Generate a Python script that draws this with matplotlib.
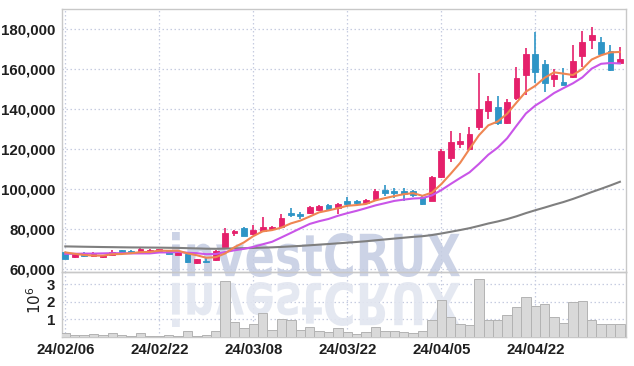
import matplotlib
matplotlib.use("Agg")
import matplotlib.pyplot as plt
from matplotlib.textpath import TextPath
from matplotlib.patches import PathPatch
from matplotlib.font_manager import FontProperties
from matplotlib.transforms import Affine2D
from matplotlib.ticker import FuncFormatter

# trading days 2024-02-06 .. 2024-05-07
dates = ["24/02/06", "24/02/07", "24/02/08", "24/02/13", "24/02/14", "24/02/15", "24/02/16", "24/02/19", "24/02/20", "24/02/21",
         "24/02/22", "24/02/23", "24/02/26", "24/02/27", "24/02/28", "24/02/29", "24/03/04", "24/03/05", "24/03/06", "24/03/07",
         "24/03/08", "24/03/11", "24/03/12", "24/03/13", "24/03/14", "24/03/15", "24/03/18", "24/03/19", "24/03/20", "24/03/21",
         "24/03/22", "24/03/25", "24/03/26", "24/03/27", "24/03/28", "24/03/29", "24/04/01", "24/04/02", "24/04/03", "24/04/04",
         "24/04/05", "24/04/08", "24/04/09", "24/04/11", "24/04/12", "24/04/15", "24/04/16", "24/04/17", "24/04/18", "24/04/19",
         "24/04/22", "24/04/23", "24/04/24", "24/04/25", "24/04/26", "24/04/29", "24/04/30", "24/05/02", "24/05/03", "24/05/07"]

opens = [68500, 65850, 68000, 66350, 65850, 67000, 69500, 69150, 69000, 69000,
         68500, 69350, 67000, 67650, 63150, 64000, 64350, 71000, 78150, 80500,
         77500, 78850, 80150, 80850, 88150, 87350, 87850, 89500, 92150, 90350,
         94000, 94000, 92850, 94850, 99500, 99150, 99150, 99000, 96150, 94150,
         106150, 115650, 122650, 120000, 131000, 139150, 141000, 133000, 145650, 156850,
         167500, 162500, 155000, 153500, 156150, 166650, 174650, 173500, 169000, 163150]
highs = [68700, 67600, 68300, 68500, 67200, 69350, 69700, 69500, 71000, 69800,
         70200, 69600, 68900, 67900, 65100, 65500, 69350, 80500, 79350, 81000,
         82000, 85850, 81650, 87500, 90650, 88650, 91300, 92000, 92500, 93000,
         95850, 94500, 94800, 99800, 102000, 100650, 100350, 99500, 96500, 106500,
         120000, 129150, 127800, 130850, 157850, 146650, 146650, 144850, 161150, 170350,
         178350, 164500, 159850, 160650, 171850, 179150, 180850, 175850, 171850, 171150]
lows = [64900, 65500, 66000, 66100, 65600, 66800, 67800, 67650, 68800, 68700,
        68300, 67400, 66800, 63100, 62650, 63150, 64100, 70850, 76500, 76500,
        77000, 78500, 79650, 80500, 85850, 84850, 87500, 89000, 89800, 87500,
        91150, 92000, 92500, 94500, 96500, 95350, 94000, 96000, 92000, 94000,
        105500, 113650, 120300, 119500, 129500, 135150, 132000, 132500, 144500, 147000,
        152850, 148500, 151150, 152000, 155500, 161150, 169850, 167000, 159150, 162800]
closes = [65200, 67350, 66350, 67500, 67000, 68650, 68000, 68350, 70150, 69500,
          69850, 67650, 68650, 63350, 64850, 63650, 69000, 78000, 79000, 76750,
          79500, 80850, 81150, 85350, 87150, 86500, 91000, 91650, 90150, 92650,
          92650, 92800, 94350, 99150, 98150, 97850, 97500, 97000, 92500, 106150,
          119000, 123500, 124000, 127500, 140150, 144000, 133000, 143500, 155350, 167500,
          158650, 153150, 157000, 152150, 164000, 173500, 177000, 167650, 159500, 165000]

ma5 = [68300, 67600, 67000, 66700, 66680, 67370, 67500, 67900, 68430, 68530,
       69170, 69100, 69160, 67800, 66870, 65630, 65900, 67770, 70900, 73280,
       76450, 78820, 79450, 80720, 82800, 84200, 86230, 88330, 89290, 90390,
       91620, 91980, 92520, 94320, 95420, 96460, 97400, 97930, 96600, 98200,
       102430, 107630, 113030, 120030, 126830, 131830, 133730, 137630, 143200, 148670,
       151600, 155630, 158330, 157690, 156990, 159960, 164730, 166860, 168330, 168530]
ma10 = [67600, 67600, 67700, 67700, 67800, 67900, 67900, 67800, 67800, 67800,
        68270, 68300, 68530, 68120, 67900, 67400, 67500, 68470, 69350, 70080,
        71040, 72360, 73610, 75810, 78040, 80330, 82530, 83890, 85010, 86600,
        87910, 89100, 90430, 91810, 92910, 94040, 94690, 95230, 95460, 96810,
        99450, 102520, 105480, 108320, 112520, 117130, 120680, 125330, 131620, 137750,
        141720, 144680, 147980, 150450, 152830, 155780, 160180, 162600, 163010, 162760]
ma60 = [71300, 71220, 71130, 71060, 70980, 70920, 70850, 70790, 70760, 70720,
        70680, 70610, 70550, 70410, 70290, 70150, 70100, 70200, 70320, 70400,
        70530, 70680, 70830, 71050, 71300, 71540, 71860, 72190, 72490, 72830,
        73170, 73520, 73890, 74340, 74780, 75210, 75640, 76060, 76400, 76970,
        77750, 78610, 79480, 80410, 81550, 82750, 83770, 84960, 86350, 87940,
        89380, 90730, 92150, 93490, 95020, 96710, 98460, 100100, 101800, 103600]

# volume, millions of shares
volume = [0.24, 0.13, 0.13, 0.19, 0.13, 0.24, 0.13, 0.07, 0.24, 0.06,
          0.07, 0.13, 0.07, 0.36, 0.07, 0.13, 0.36, 3.18, 0.86, 0.52,
          0.75, 1.36, 0.41, 1.00, 0.97, 0.41, 0.58, 0.36, 0.30, 0.52,
          0.30, 0.19, 0.26, 0.58, 0.36, 0.36, 0.30, 0.24, 0.36, 0.97,
          2.09, 1.14, 0.75, 0.69, 3.33, 0.97, 0.97, 1.27, 1.72, 2.28,
          1.78, 1.89, 1.14, 0.80, 2.00, 2.06, 0.97, 0.75, 0.75, 0.75]

UP = "#e5206b"
DOWN = "#2e95c6"
GRID = "#c6cce0"
TXT = "#1e1e1e"

plt.rcParams["font.family"] = ["Liberation Sans", "DejaVu Sans"]

W, H = 634, 366
fig = plt.figure(figsize=(W / 100, H / 100), dpi=100)
ax = fig.add_axes([62 / W, 1 - 272 / H, 564 / W, 263 / H])
axv = fig.add_axes([62 / W, 1 - 337 / H, 564 / W, 65 / H], sharex=ax)
axv.set_facecolor("none")

x = list(range(len(dates)))
cols = [UP if c >= o else DOWN for o, c in zip(opens, closes)]
bottoms = [min(o, c) for o, c in zip(opens, closes)]
heights = [max(abs(c - o), 500) for o, c in zip(opens, closes)]

ax.vlines(x, lows, highs, colors=cols, linewidth=1.2, zorder=3)
ax.bar(x, heights, bottom=bottoms, width=0.62, color=cols, edgecolor=cols, linewidth=0.6, zorder=4)
ax.plot(x, ma60, color="#7f7f7f", linewidth=1.5, zorder=5)
ax.plot(x, ma10, color="#c955e8", linewidth=1.5, zorder=5)
ax.plot(x, ma5, color="#ef8652", linewidth=1.5, zorder=5)

axv.bar(x, volume, width=1.0, color="#d9d9d9", edgecolor="#b3b3b3", linewidth=0.7, zorder=3)

ax.set_xlim(-0.35, 59.65)
ax.set_ylim(58500, 190000)
ax.set_yticks(range(60000, 180001, 20000))
ax.yaxis.set_major_formatter(FuncFormatter(lambda v, p: f"{int(v):,}"))
axv.set_ylim(0, 3.7)
axv.set_yticks([1, 2, 3])
axv.set_xticks(x[::10])
axv.set_xticklabels(dates[::10])
ax.tick_params(axis="x", labelbottom=False)

for a in (ax, axv):
    a.grid(True, color=GRID, linestyle=(0, (1.2, 2)), linewidth=0.9, zorder=0)
    a.set_axisbelow(True)
    a.tick_params(length=0, labelsize=10.8, colors=TXT, pad=5)
    for lab in a.get_yticklabels() + a.get_xticklabels():
        lab.set_fontweight("bold")
    for s in a.spines.values():
        s.set_color("#c8c8c8")
        s.set_linewidth(1.0)
axv.tick_params(axis="x", pad=4)

fig.text(35 / W, 1 - 300 / H, r"$10^6$", rotation=90, ha="center", va="center",
         fontsize=11, color=TXT)

# watermark and its reflection, placed in pixel coordinates
fp = FontProperties(family=["DejaVu Sans"], weight="heavy")
tp = TextPath((0, 0), "investCRUX", size=100, prop=fp)
bb = tp.get_extents()
x0, x1 = 172, 460
top, base = 232, 277
sx = (x1 - x0) / bb.width
sy = (base - top) / bb.height
mark = Affine2D().translate(-bb.x0, -bb.y0).scale(sx, sy).translate(x0, H - base)
ax.add_patch(PathPatch(tp, transform=mark, facecolor="#c4cce2", edgecolor="none",
                       alpha=0.85, zorder=1, clip_on=False))
mirror = Affine2D().translate(-bb.x0, -bb.y0).scale(sx, -sy).translate(x0, H - 282)
axv.add_patch(PathPatch(tp, transform=mirror, facecolor="#e2e6f0", edgecolor="none",
                        alpha=0.9, zorder=1, clip_on=False))

fig.savefig("out.png", dpi=100, facecolor="white")
